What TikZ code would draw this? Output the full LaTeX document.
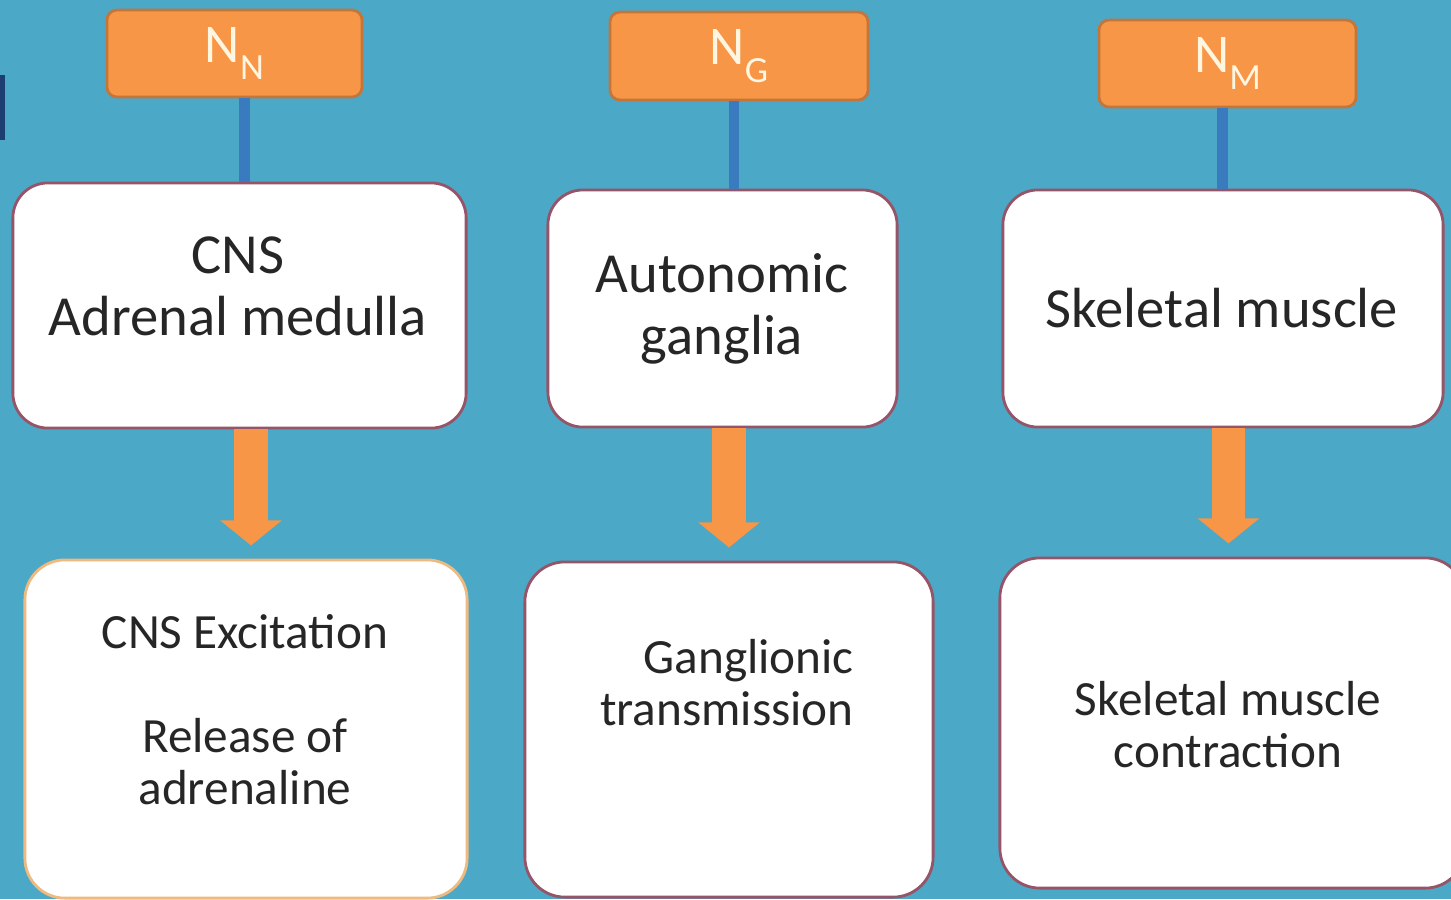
\documentclass[tikz,border=0pt]{standalone}
\usepackage{fontspec}
\setmainfont{Carlito}
\usetikzlibrary{arrows.meta}

\definecolor{bgteal}{RGB}{75,168,198}
\definecolor{navybar}{RGB}{28,62,112}
\definecolor{recorange}{RGB}{247,150,70}
\definecolor{recedge}{RGB}{196,118,58}
\definecolor{linkblue}{RGB}{58,122,190}
\definecolor{boxedge}{RGB}{150,84,104}
\definecolor{paleedge}{RGB}{238,186,128}
\definecolor{txtgrey}{RGB}{38,38,38}
\definecolor{cream}{RGB}{255,246,226}

\newcommand{\recsub}[1]{N\raisebox{-0.32em}{\fontsize{10.5}{12}\selectfont #1}}

\tikzset{
  receptor/.style={draw=recedge, fill=recorange, line width=0.8pt, rounded corners=0.1cm,
    minimum width=2.56cm, minimum height=0.87cm, inner sep=0pt, text=cream,
    font=\fontsize{15.5}{18}\selectfont},
  sitebox/.style={draw=boxedge, fill=white, line width=0.8pt, rounded corners=0.35cm, inner sep=0pt},
  effectbox/.style={sitebox, rounded corners=0.4cm},
  sitetxt/.style={align=center, inner sep=0pt, text=txtgrey, font=\fontsize{16.1}{17.6}\selectfont},
  effecttxt/.style={sitetxt, font=\fontsize{14}{14.8}\selectfont},
  link/.style={draw=linkblue, line width=3.1pt},
  blockarr/.style={draw=recorange, line width=0.33cm, shorten >=0.13cm,
    -{Triangle[width=0.6cm, length=0.25cm]}}
}

\begin{document}
\begin{tikzpicture}[x=0.01cm, y=-0.01cm]

  %%%%%%%%%%%Background%%%%%%%%%%%
  \useasboundingbox (0,0) rectangle (1451,899);
  \clip (0,0) rectangle (1451,899);
  \fill[bgteal] (0,0) rectangle (1451,899);
  \fill[navybar] (0,75) rectangle (5,140);

  %%%%%%%%%%%Receptors on top%%%%%%%%%%%
  \node[receptor, minimum width=2.55cm] (nn) at (234.5,53.5) {\recsub{N}};
  \node[receptor, minimum width=2.58cm, minimum height=0.88cm] (ng) at (739,56) {\recsub{G}};
  \node[receptor, minimum width=2.57cm] (nm) at (1227.5,63.5) {\recsub{M}};

  %%%%%%%%%%%Sites%%%%%%%%%%%%%%%%%%%%%%%
  \node[sitebox, minimum width=4.53cm, minimum height=2.45cm] (cns) at (239.5,305.5) {};
  \node[sitebox, minimum width=3.49cm, minimum height=2.37cm] (gang) at (722.5,308.5) {};
  \node[sitebox, minimum width=4.40cm, minimum height=2.37cm] (skel) at (1223,308.5) {};
  \node[sitetxt] (cnstxt) at (238,286) {CNS\\Adrenal medulla};
  \node[sitetxt] (gangtxt) at (722,309) {Autonomic\\ganglia};
  \node[sitetxt] (skeltxt) at (1222,308) {Skeletal muscle};

  %%%%%%%%%%%Effects%%%%%%%%%%%%%%%%%%%%%
  \node[effectbox, draw=paleedge, minimum width=4.42cm, minimum height=3.38cm] (exc) at (246,729) {};
  \node[effectbox, minimum width=4.08cm, minimum height=3.35cm] (trans) at (729,729.5) {};
  \node[effectbox, minimum width=4.65cm, minimum height=3.30cm] (contr) at (1232.5,723) {};
  \node[effecttxt] (exctxt) at (245,710) {CNS Excitation\\[14.8pt]Release of\\adrenaline};
  \node[effecttxt, align=right] (transtxt) at (727,683) {Ganglionic\\transmission};
  \node[effecttxt] (contrtxt) at (1228,725) {Skeletal muscle\\contraction};

  %%%%%%%%%%%Links%%%%%%%%%%%%%%%%%%%%%%%
  \draw[link] ([xshift=1mm]nn.south) -- ([xshift=1mm]nn.south |- cns.north);
  \draw[link] ([xshift=-0.5mm]ng.south) -- ([xshift=-0.5mm]ng.south |- gang.north);
  \draw[link] ([xshift=-0.5mm]nm.south) -- ([xshift=-0.5mm]nm.south |- skel.north);

  %%%%%%%%%%%Arrows%%%%%%%%%%%%%%%%%%%%%%
  \draw[blockarr] ([xshift=0.5mm]cns.south -| exc.north) -- ([xshift=0.5mm]exc.north);
  \draw[blockarr] (gang.south -| trans.north) -- (trans.north);
  \draw[blockarr] ([xshift=-0.4mm]skel.south -| contr.north) -- ([xshift=-0.4mm]contr.north);
\end{tikzpicture}
\end{document}
